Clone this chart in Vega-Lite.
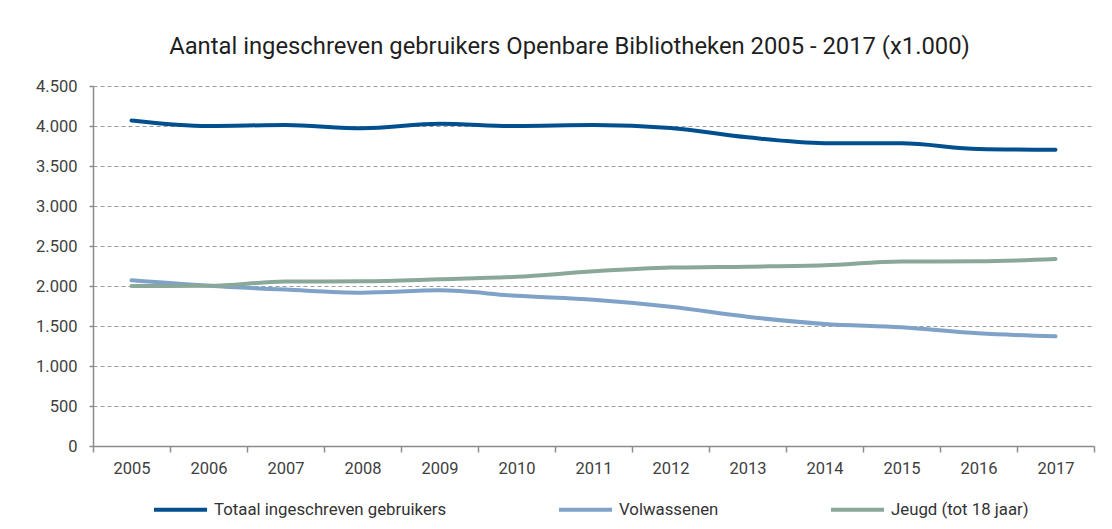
{
  "$schema": "https://vega.github.io/schema/vega-lite/v6.json",
  "width": 1001,
  "height": 360,
  "autosize": {"type": "none"},
  "padding": {"left": 93, "top": 86, "right": 18, "bottom": 83},
  "background": "white",
  "title": {
    "text": "Aantal ingeschreven gebruikers Openbare Bibliotheken 2005 - 2017 (x1.000)",
    "font": "Roboto",
    "fontSize": 23.8,
    "fontWeight": "normal",
    "color": "#1f1f1f",
    "anchor": "middle",
    "dx": -24,
    "offset": 19
  },
  "data": {
    "values": [
      {"jaar": "2005", "serie": "Totaal ingeschreven gebruikers", "waarde": 4070},
      {"jaar": "2006", "serie": "Totaal ingeschreven gebruikers", "waarde": 4000},
      {"jaar": "2007", "serie": "Totaal ingeschreven gebruikers", "waarde": 4012},
      {"jaar": "2008", "serie": "Totaal ingeschreven gebruikers", "waarde": 3972},
      {"jaar": "2009", "serie": "Totaal ingeschreven gebruikers", "waarde": 4028},
      {"jaar": "2010", "serie": "Totaal ingeschreven gebruikers", "waarde": 4000},
      {"jaar": "2011", "serie": "Totaal ingeschreven gebruikers", "waarde": 4012},
      {"jaar": "2012", "serie": "Totaal ingeschreven gebruikers", "waarde": 3975},
      {"jaar": "2013", "serie": "Totaal ingeschreven gebruikers", "waarde": 3858},
      {"jaar": "2014", "serie": "Totaal ingeschreven gebruikers", "waarde": 3785},
      {"jaar": "2015", "serie": "Totaal ingeschreven gebruikers", "waarde": 3783},
      {"jaar": "2016", "serie": "Totaal ingeschreven gebruikers", "waarde": 3712},
      {"jaar": "2017", "serie": "Totaal ingeschreven gebruikers", "waarde": 3702},
      {"jaar": "2005", "serie": "Volwassenen", "waarde": 2071},
      {"jaar": "2006", "serie": "Volwassenen", "waarde": 2003},
      {"jaar": "2007", "serie": "Volwassenen", "waarde": 1955},
      {"jaar": "2008", "serie": "Volwassenen", "waarde": 1917},
      {"jaar": "2009", "serie": "Volwassenen", "waarde": 1946},
      {"jaar": "2010", "serie": "Volwassenen", "waarde": 1877},
      {"jaar": "2011", "serie": "Volwassenen", "waarde": 1828},
      {"jaar": "2012", "serie": "Volwassenen", "waarde": 1740},
      {"jaar": "2013", "serie": "Volwassenen", "waarde": 1615},
      {"jaar": "2014", "serie": "Volwassenen", "waarde": 1525},
      {"jaar": "2015", "serie": "Volwassenen", "waarde": 1484},
      {"jaar": "2016", "serie": "Volwassenen", "waarde": 1408},
      {"jaar": "2017", "serie": "Volwassenen", "waarde": 1371},
      {"jaar": "2005", "serie": "Jeugd (tot 18 jaar)", "waarde": 2000},
      {"jaar": "2006", "serie": "Jeugd (tot 18 jaar)", "waarde": 2003},
      {"jaar": "2007", "serie": "Jeugd (tot 18 jaar)", "waarde": 2055},
      {"jaar": "2008", "serie": "Jeugd (tot 18 jaar)", "waarde": 2058},
      {"jaar": "2009", "serie": "Jeugd (tot 18 jaar)", "waarde": 2083},
      {"jaar": "2010", "serie": "Jeugd (tot 18 jaar)", "waarde": 2115},
      {"jaar": "2011", "serie": "Jeugd (tot 18 jaar)", "waarde": 2183},
      {"jaar": "2012", "serie": "Jeugd (tot 18 jaar)", "waarde": 2230},
      {"jaar": "2013", "serie": "Jeugd (tot 18 jaar)", "waarde": 2242},
      {"jaar": "2014", "serie": "Jeugd (tot 18 jaar)", "waarde": 2258},
      {"jaar": "2015", "serie": "Jeugd (tot 18 jaar)", "waarde": 2306},
      {"jaar": "2016", "serie": "Jeugd (tot 18 jaar)", "waarde": 2308},
      {"jaar": "2017", "serie": "Jeugd (tot 18 jaar)", "waarde": 2337}
    ]
  },
  "mark": {"type": "line", "strokeWidth": 4, "interpolate": "monotone", "strokeCap": "round"},
  "encoding": {
    "x": {
      "field": "jaar",
      "type": "ordinal",
      "scale": {"type": "band", "paddingInner": 0, "paddingOuter": 0},
      "axis": {
        "title": null,
        "labelAngle": 0,
        "tickBand": "extent",
        "grid": false,
        "tickSize": 6,
        "labelPadding": 8,
        "labelFontSize": 16.5
      }
    },
    "y": {
      "field": "waarde",
      "type": "quantitative",
      "scale": {"domain": [0, 4500], "nice": false, "zero": true},
      "axis": {
        "title": null,
        "values": [0, 500, 1000, 1500, 2000, 2500, 3000, 3500, 4000, 4500],
        "labelExpr": "replace(format(datum.value, ','), ',', '.')",
        "grid": true,
        "gridColor": "#9a9a9a",
        "gridDash": [4, 3],
        "gridWidth": 1,
        "tickSize": 6,
        "tickDash": [4, 3],
        "labelPadding": 10,
        "labelFontSize": 16.5
      }
    },
    "color": {
      "field": "serie",
      "type": "nominal",
      "scale": {
        "domain": ["Totaal ingeschreven gebruikers", "Volwassenen", "Jeugd (tot 18 jaar)"],
        "range": ["#00508f", "#7fa3c8", "#8aa899"]
      },
      "legend": {
        "title": null,
        "orient": "none",
        "direction": "horizontal",
        "legendX": 59,
        "legendY": 395,
        "symbolType": "stroke",
        "symbolSize": 2809,
        "symbolStrokeWidth": 4,
        "labelFontSize": 16.8,
        "labelFont": "Roboto",
        "labelColor": "#333333",
        "labelLimit": 500,
        "labelOffset": 5,
        "columnPadding": 104,
        "padding": 0
      }
    }
  },
  "config": {
    "view": {"stroke": null},
    "font": "Roboto",
    "axis": {
      "labelFont": "Roboto",
      "labelColor": "#404040",
      "domainColor": "#8c8c8c",
      "tickColor": "#8c8c8c",
      "domainWidth": 1.5,
      "tickWidth": 1.5
    }
  }
}
